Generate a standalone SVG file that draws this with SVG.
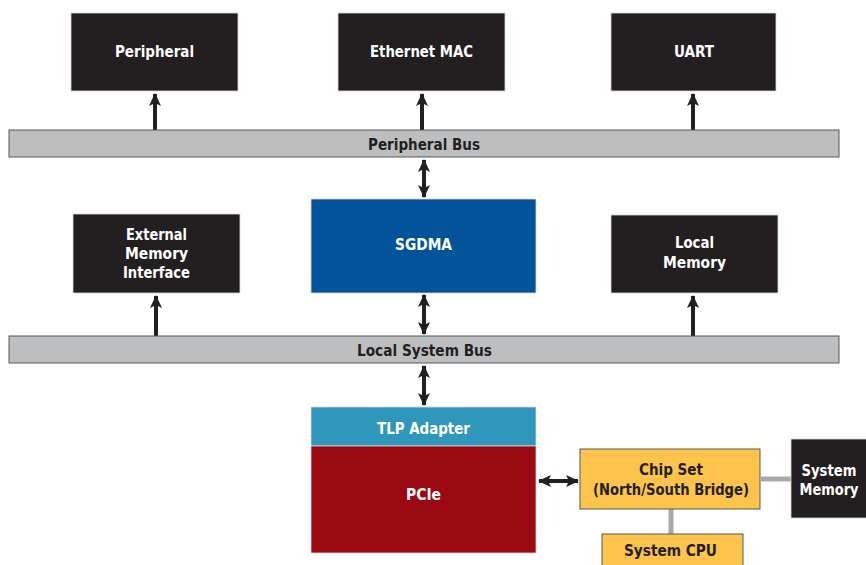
<svg xmlns="http://www.w3.org/2000/svg" width="866" height="565" viewBox="0 0 866 565">
<defs>
<style>
.blk{fill:#231f20;stroke:#d9d9d9;stroke-width:0.8}
.bus{fill:#bcbec0;stroke:#58595b;stroke-width:1}
.t{font-family:"DejaVu Sans Condensed","Liberation Sans",sans-serif;font-weight:bold;font-size:16.5px;text-anchor:middle}
.w{fill:#ffffff}
.d{fill:#231f20}
.arr{stroke:#231f20;stroke-width:4;fill:none}
.gl{stroke:#a7a9ac;stroke-width:5;fill:none}
</style>
<marker id="ah" markerUnits="userSpaceOnUse" markerWidth="14" markerHeight="14" viewBox="0 0 14 14" refX="12" refY="7" orient="auto-start-reverse">
<path d="M0,1 L13,7 L0,13 L3,7 Z" fill="#231f20"/>
</marker>
</defs>

<g id="connectors">
<line class="arr" x1="155" y1="130" x2="155" y2="94" marker-end="url(#ah)"/>
<line class="arr" x1="422" y1="130" x2="422" y2="94" marker-end="url(#ah)"/>
<line class="arr" x1="693" y1="130" x2="693" y2="94" marker-end="url(#ah)"/>
<line class="arr" x1="424" y1="160" x2="424" y2="197" marker-start="url(#ah)" marker-end="url(#ah)"/>
<line class="arr" x1="156" y1="336" x2="156" y2="296" marker-end="url(#ah)"/>
<line class="arr" x1="693" y1="336" x2="693" y2="296" marker-end="url(#ah)"/>
<line class="arr" x1="424" y1="295" x2="424" y2="334" marker-start="url(#ah)" marker-end="url(#ah)"/>
<line class="arr" x1="424" y1="366" x2="424" y2="405" marker-start="url(#ah)" marker-end="url(#ah)"/>
<line class="arr" x1="539" y1="481" x2="578" y2="481" marker-start="url(#ah)" marker-end="url(#ah)"/>
<line class="gl" x1="761" y1="479" x2="791" y2="479"/>
<line class="gl" x1="671" y1="509" x2="671" y2="534"/>
</g>

<g id="peripheral">
<rect class="blk" x="71" y="13" width="167" height="78"/>
<text class="t w" x="154.5" y="57" textLength="79" lengthAdjust="spacingAndGlyphs">Peripheral</text>
</g>
<g id="ethernet-mac">
<rect class="blk" x="338" y="13" width="167" height="78"/>
<text class="t w" x="421.5" y="57" textLength="103" lengthAdjust="spacingAndGlyphs">Ethernet MAC</text>
</g>
<g id="uart">
<rect class="blk" x="611" y="13" width="165" height="78"/>
<text class="t w" x="694" y="57" textLength="40" lengthAdjust="spacingAndGlyphs">UART</text>
</g>

<g id="peripheral-bus">
<rect class="bus" x="9" y="130" width="830" height="27"/>
<text class="t d" x="424" y="150" textLength="112" lengthAdjust="spacingAndGlyphs">Peripheral Bus</text>
</g>

<g id="sgdma">
<rect x="311" y="199" width="225" height="94" fill="#03539b" stroke="#d9d9d9" stroke-width="0.8"/>
<text class="t w" x="423.5" y="249.5" textLength="57" lengthAdjust="spacingAndGlyphs">SGDMA</text>
</g>

<g id="external-memory-interface">
<rect class="blk" x="73" y="214" width="167" height="79"/>
<text class="t w" x="156.5" y="240" textLength="61" lengthAdjust="spacingAndGlyphs">External</text>
<text class="t w" x="156.5" y="259" textLength="63" lengthAdjust="spacingAndGlyphs">Memory</text>
<text class="t w" x="156.5" y="278" textLength="67" lengthAdjust="spacingAndGlyphs">Interface</text>
</g>

<g id="local-memory">
<rect class="blk" x="611" y="215" width="167" height="78"/>
<text class="t w" x="694.5" y="248" textLength="39" lengthAdjust="spacingAndGlyphs">Local</text>
<text class="t w" x="694.5" y="268" textLength="63" lengthAdjust="spacingAndGlyphs">Memory</text>
</g>

<g id="local-system-bus">
<rect class="bus" x="9" y="336" width="830" height="27"/>
<text class="t d" x="424.5" y="356" textLength="135" lengthAdjust="spacingAndGlyphs">Local System Bus</text>
</g>

<g id="tlp-adapter">
<rect x="311" y="407" width="225" height="39" fill="#2e97bb" stroke="#d9d9d9" stroke-width="0.8"/>
<text class="t w" x="423.5" y="434" textLength="93" lengthAdjust="spacingAndGlyphs">TLP Adapter</text>
</g>

<g id="pcie">
<rect x="311" y="446" width="225" height="107" fill="#9b0a12" stroke="#d9d9d9" stroke-width="0.8"/>
<text class="t w" x="423.5" y="500" textLength="35" lengthAdjust="spacingAndGlyphs">PCIe</text>
</g>

<g id="chip-set">
<rect x="580" y="449" width="180" height="60" fill="#fdc34a" stroke="#58595b" stroke-width="1"/>
<text class="t d" x="671" y="475" textLength="64" lengthAdjust="spacingAndGlyphs">Chip Set</text>
<text class="t d" x="671" y="494.5" textLength="156" lengthAdjust="spacingAndGlyphs">(North/South Bridge)</text>
</g>

<g id="system-memory">
<rect class="blk" x="791" y="439" width="80" height="79"/>
<text class="t w" x="829" y="476" font-size="15.5" textLength="55" lengthAdjust="spacingAndGlyphs">System</text>
<text class="t w" x="829" y="495" font-size="15.5" textLength="59" lengthAdjust="spacingAndGlyphs">Memory</text>
</g>

<g id="system-cpu">
<rect x="602" y="534" width="141" height="36" fill="#fdc34a" stroke="#58595b" stroke-width="1"/>
<text class="t d" x="670.5" y="556" textLength="93" lengthAdjust="spacingAndGlyphs">System CPU</text>
</g>
</svg>
